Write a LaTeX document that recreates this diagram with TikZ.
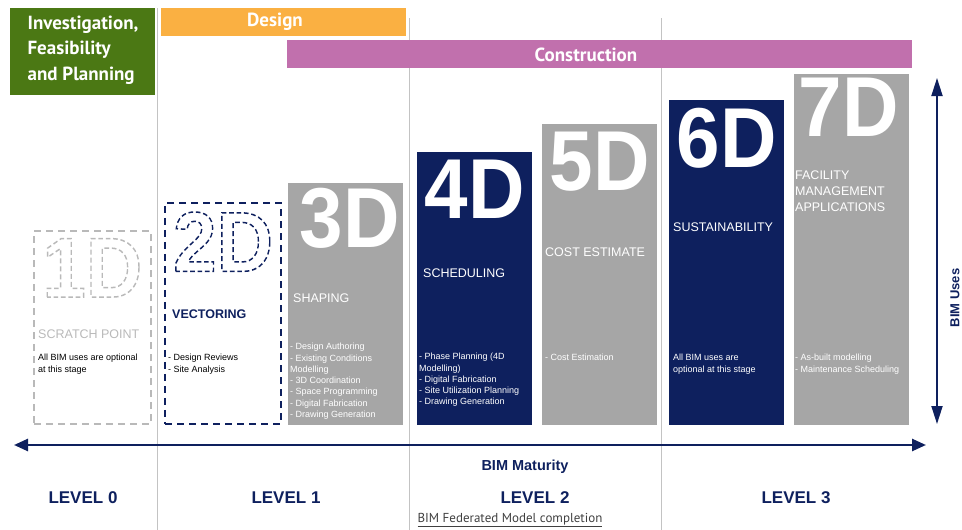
\documentclass[tikz,border=0pt]{standalone}
\usepackage{fontspec}
\usepackage{graphicx}
\setmainfont{Liberation Sans}
\newfontfamily\hdrfont{PT Sans}
\usetikzlibrary{arrows.meta}

\definecolor{navyc}{RGB}{14,32,94}
\definecolor{boxgray}{RGB}{166,166,166}
\definecolor{greenc}{RGB}{75,120,20}
\definecolor{designc}{RGB}{250,176,66}
\definecolor{constc}{RGB}{193,112,173}
\definecolor{sepgray}{RGB}{195,195,195}
\definecolor{dashgray}{RGB}{185,185,185}

\newcommand\outlined[1]{\special{pdf:literal direct 1 Tr 1.5 w [5 3] 0 d}#1\special{pdf:literal direct 0 Tr [] 0 d}}

\begin{document}
\begin{tikzpicture}[x=1pt,y=-1pt,
    phase/.style={anchor=north west,inner sep=0,minimum height=28pt},
    hdr/.style={font=\hdrfont\bfseries\fontsize{19}{25.5}\selectfont,text=white,inner sep=0},
    dbox/.style={anchor=south west,inner sep=0,minimum width=115pt},
    digit/.style={anchor=north,inner sep=0,font=\bfseries\fontsize{85}{85}\selectfont},
    lbl/.style={anchor=west,inner sep=0,font=\fontsize{12.5}{15.8}\selectfont},
    uses/.style={anchor=north west,inner sep=0,align=left,font=\fontsize{9}{11.3}\selectfont},
    level/.style={font=\bfseries\fontsize{17}{17}\selectfont,text=navyc,inner sep=0},
    sep/.style={draw=sepgray,line width=0.8pt}]
  \useasboundingbox (0,0) rectangle (962,530);
  \draw[sep] (157,8) -- (157,530);
  \draw[sep] (409,18) -- (409,530);
  \draw[sep] (661,18) -- (661,530);

  \node[phase,fill=greenc,minimum width=145pt,minimum height=87pt] (plan) at (10,8) {};
  \node[hdr,align=left] (plantxt) at (83,50) {Investigation,\\Feasibility\\and Planning};
  \node[phase,fill=designc,minimum width=245pt] (design) at (161,8) {};
  \node[hdr,anchor=base] (designtxt) at (275,26.7) {Design};
  \node[phase,fill=constc,minimum width=625pt] (constr) at (287,40) {};
  \node[hdr,anchor=base] (constrtxt) at (586,61.5) {Construction};

  \node[dbox,draw=dashgray,line width=1.6pt,dash pattern=on 7pt off 5pt,minimum width=117pt,minimum height=193pt] (b1) at (33,425) {};
  \node[dbox,draw=navyc,line width=2.2pt,dash pattern=on 7pt off 5pt,minimum width=116pt,minimum height=221pt] (b2) at (164,425) {};
  \node[dbox,fill=boxgray,minimum height=242pt] (b3) at (288,425) {};
  \node[dbox,fill=navyc,minimum height=273pt] (b4) at (417,425) {};
  \node[dbox,fill=boxgray,minimum height=301pt] (b5) at (542,425) {};
  \node[dbox,fill=navyc,minimum height=325pt] (b6) at (669,425) {};
  \node[dbox,fill=boxgray,minimum height=351pt] (b7) at (794,425) {};

  \node[digit,text=dashgray] (d1) at ([yshift=-8pt]b1.north) {\scalebox{0.92}[1]{\outlined{1D}}};
  \node[digit,text=navyc] (d2) at ([yshift=-10pt]b2.north) {\scalebox{0.92}[1]{\outlined{2D}}};
  \node[digit,text=white] (d3) at ([xshift=4pt,yshift=-5pt]b3.north) {\scalebox{0.92}[1]{3D}};
  \node[digit,text=white] (d4) at ([yshift=-8pt]b4.north) {\scalebox{0.92}[1]{4D}};
  \node[digit,text=white] (d5) at ([yshift=-8pt]b5.north) {\scalebox{0.92}[1]{5D}};
  \node[digit,text=white] (d6) at ([yshift=-8pt]b6.north) {\scalebox{0.92}[1]{6D}};
  \node[digit,text=white] (d7) at ([xshift=-3pt,yshift=-4pt]b7.north) {\scalebox{0.92}[1]{7D}};

  \node[lbl,text=dashgray] (l1) at (38,334) {SCRATCH POINT};
  \node[lbl,text=navyc,font=\bfseries\fontsize{12.5}{15.8}\selectfont] (l2) at (172,314) {VECTORING};
  \node[lbl,text=white] (l3) at (293,298) {SHAPING};
  \node[lbl,text=white] (l4) at (423,273) {SCHEDULING};
  \node[lbl,text=white] (l5) at (545,252) {COST ESTIMATE};
  \node[lbl,text=white] (l6) at (673,227) {SUSTAINABILITY};
  \node[lbl,text=white,anchor=north west,align=left] (l7) at (795,170.5) {FACILITY\\MANAGEMENT\\APPLICATIONS};

  \node[uses] (u1) at (38,354) {All BIM uses are optional\\at this stage};
  \node[uses] (u2) at (168,354) {- Design Reviews\\- Site Analysis};
  \node[uses,text=white] (u3) at (290,343) {- Design Authoring\\- Existing Conditions\\Modelling\\- 3D Coordination\\- Space Programming\\- Digital Fabrication\\- Drawing Generation};
  \node[uses,text=white] (u4) at (419,353) {- Phase Planning (4D\\Modelling)\\- Digital Fabrication\\- Site Utilization Planning\\- Drawing Generation};
  \node[uses,text=white] (u5) at (545,354) {- Cost Estimation};
  \node[uses,text=white] (u6) at (673,354) {All BIM uses are\\optional at this stage};
  \node[uses,text=white] (u7) at (795,354) {- As-built modelling\\- Maintenance Scheduling};

  \coordinate (mleft) at (14,445);
  \coordinate (mright) at (926,445);
  \draw[navyc,line width=2.5pt,{Triangle[length=14pt,width=12pt]}-{Triangle[length=14pt,width=12pt]}] (mleft) -- (mright);
  \coordinate (utop) at (937,78);
  \coordinate (ubot) at (937,424);
  \draw[navyc,line width=1.8pt,{Triangle[length=18pt,width=11pt]}-{Triangle[length=18pt,width=11pt]}] (utop) -- (ubot);

  \node[font=\bfseries\fontsize{13}{13}\selectfont,text=navyc,rotate=90,inner sep=0] (usestxt) at (955,298) {BIM Uses};
  \node[level,font=\bfseries\fontsize{14.5}{14.5}\selectfont] (mat) at (525,467) {BIM Maturity};
  \node[level] (lv0) at (83,498) {LEVEL 0};
  \node[level] (lv1) at (286,498) {LEVEL 1};
  \node[level] (lv2) at (535,498) {LEVEL 2};
  \node[level] (lv3) at (796,498) {LEVEL 3};
  \node[font=\hdrfont\fontsize{13}{13}\selectfont,text=black!75,inner sep=0] (fed) at (510,520) {\underline{BIM Federated Model completion}};
\end{tikzpicture}
\end{document}
